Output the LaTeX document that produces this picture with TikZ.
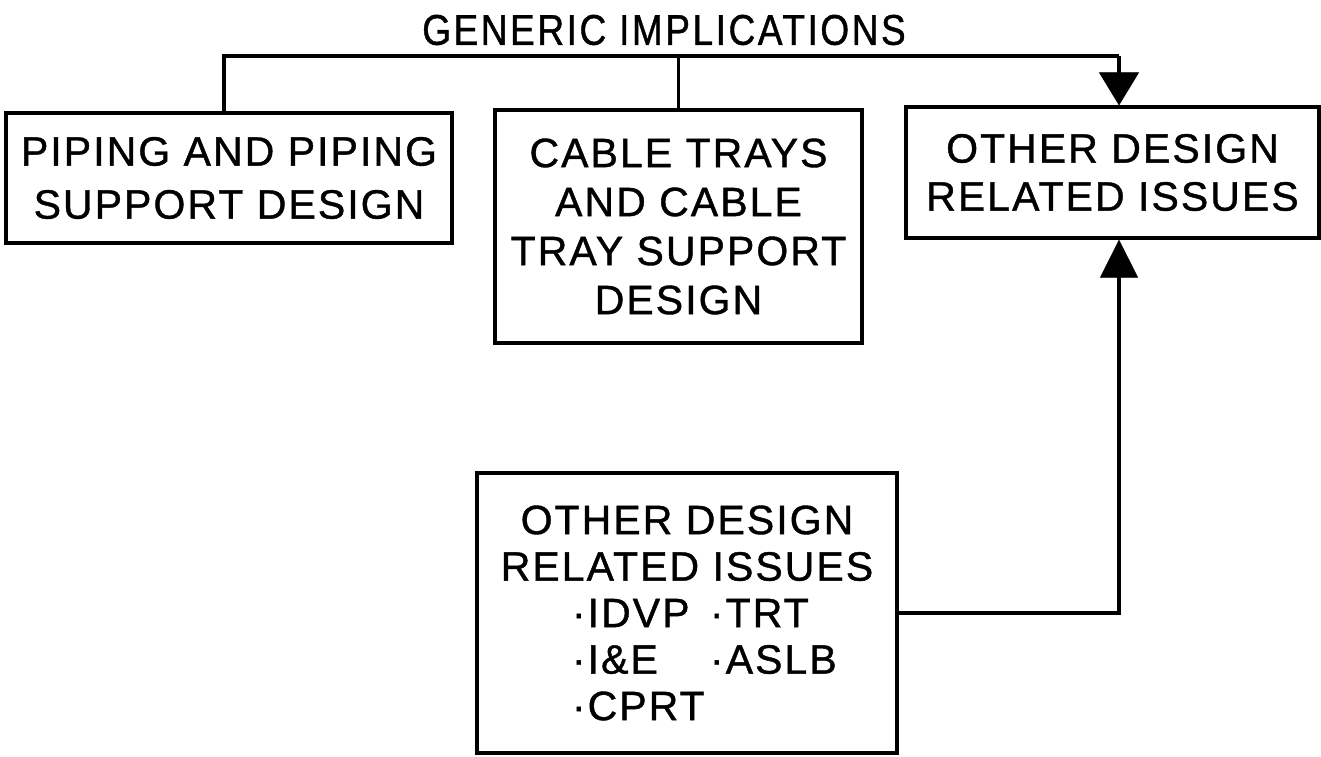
\documentclass[tikz,border=0pt]{standalone}
\usepackage{fontspec}
\setmainfont{Liberation Sans}[LetterSpace=5,FakeBold=1]
\newfontfamily\titlefont{Liberation Sans}[LetterSpace=6,FakeStretch=0.86,FakeBold=1]
\usetikzlibrary{arrows.meta}
\begin{document}
\begin{tikzpicture}[x=1pt,y=-1pt,
  box/.style={draw,line width=3.2pt,inner sep=0pt,align=center},
  conn/.style={line width=3.2pt},
  arrdown/.style={conn,-{Triangle[length=33pt,width=40pt,line width=0.6pt,fill=black]}},
  arrup/.style={conn,-{Triangle[length=38pt,width=38pt,line width=0.6pt,fill=black]}}]
\useasboundingbox[fill=white] (0,0) rectangle (1321,756);
\node[font=\titlefont\fontsize{43}{50}\selectfont] (title) at (664,30) {GENERIC IMPLICATIONS};
\node[box,minimum width=446pt,minimum height=130pt,font=\fontsize{41}{53}\selectfont] (pip) at (229,178) {PIPING AND PIPING\\SUPPORT DESIGN};
\node[box,minimum width=367pt,minimum height=233pt,font=\fontsize{41}{49}\selectfont] (cab) at (678.5,226.5) {CABLE TRAYS\\AND CABLE\\TRAY SUPPORT\\DESIGN};
\node[box,minimum width=413pt,minimum height=131pt,font=\fontsize{41}{48}\selectfont] (oth) at (1112.5,172.5) {OTHER DESIGN\\RELATED ISSUES};
\node[box,minimum width=420pt,minimum height=280pt,font=\fontsize{41}{46.5}\selectfont] (oth2) at (687,613) {OTHER DESIGN\\RELATED ISSUES\\
\makebox[230pt][l]{\makebox[138pt][l]{·IDVP}·TRT}\\
\makebox[230pt][l]{\makebox[138pt][l]{·I\&E}·ASLB}\\
\makebox[230pt][l]{·CPRT}};
\coordinate (rt) at (1119,56);
\draw[conn] (pip.north -| 224,0) -- (224,0 |- rt) -- (rt);
\draw[arrdown] (rt) -- (rt |- oth.north);
\draw[conn] (cab.north) -- (cab.north |- rt);
\draw[arrup] (oth2.east) -| (rt |- oth.south);
\end{tikzpicture}
\end{document}
